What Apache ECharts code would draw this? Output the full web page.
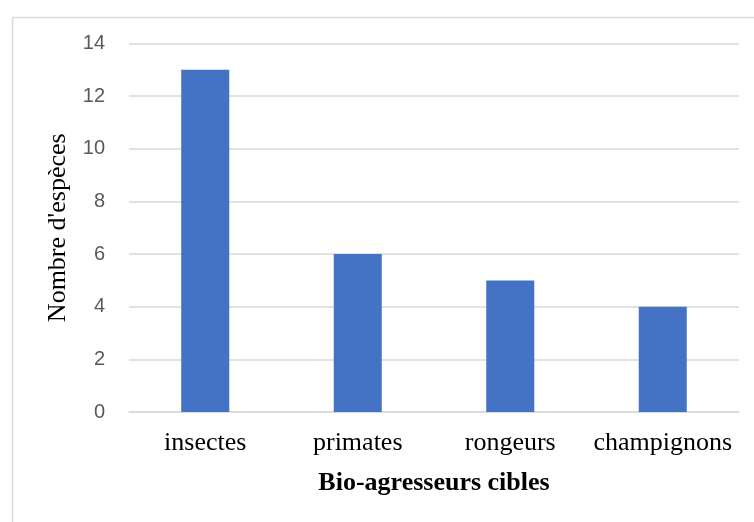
<!DOCTYPE html>
<html><head><meta charset="utf-8">
<script src="https://cdn.jsdelivr.net/npm/echarts@6/dist/echarts.min.js"></script>
<style>html,body{margin:0;padding:0;background:#fff}#c{width:754px;height:522px}</style>
</head><body><div id="c"></div>
<script>
const categories = ['insectes', 'primates', 'rongeurs', 'champignons'];
const values = [13, 6, 5, 4];
const yTicks = [0, 2, 4, 6, 8, 10, 12, 14];

const chart = echarts.init(document.getElementById('c'), null, {renderer: 'canvas'});
chart.setOption({
  animation: false,
  backgroundColor: '#fff',
  graphic: [{
    type: 'rect', left: 10, top: 15,
    shape: {width: 800, height: 600},
    style: {fill: 'none', stroke: '#d9d9d9', lineWidth: 1.5},
    silent: true
  }],
  grid: {left: 129, right: 15, top: 43.5, bottom: 110, containLabel: false},
  xAxis: {
    type: 'category', data: categories,
    axisLine: {show: true, lineStyle: {color: '#d9d9d9', width: 1.5}},
    axisTick: {show: false},
    axisLabel: {interval: 0, hideOverlap: false, fontFamily: 'Liberation Serif', fontSize: 26, color: '#000', margin: 18},
    name: 'Bio-agresseurs cibles', nameLocation: 'middle', nameGap: 58,
    nameTextStyle: {fontFamily: 'Liberation Serif', fontSize: 26, fontWeight: 'bold', color: '#000'}
  },
  yAxis: {
    type: 'value', min: yTicks[0], max: yTicks[yTicks.length - 1], interval: 2,
    axisLine: {show: false}, axisTick: {show: false},
    splitLine: {lineStyle: {color: '#d9d9d9', width: 1.5}},
    axisLabel: {fontFamily: 'Liberation Sans', fontSize: 20, color: '#595959', margin: 24},
    name: "Nombre d'espèces", nameLocation: 'middle', nameGap: 58,
    nameTextStyle: {fontFamily: 'Liberation Serif', fontSize: 26, color: '#000'}
  },
  series: [{
    type: 'bar', data: values, barWidth: '31.5%',
    itemStyle: {color: '#4472c4'}
  }]
});
</script></body></html>
